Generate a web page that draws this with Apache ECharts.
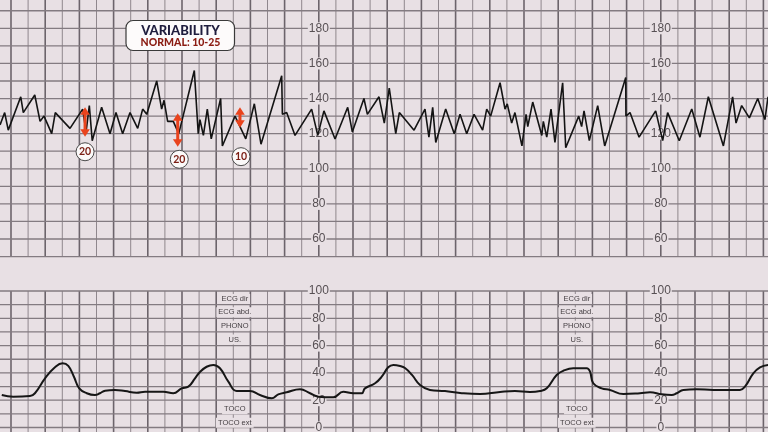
<!DOCTYPE html>
<html><head><meta charset="utf-8">
<script src="https://cdn.jsdelivr.net/npm/echarts@6/dist/echarts.min.js"></script>
<style>html,body{margin:0;padding:0;background:#e8e0e4}#c{width:768px;height:432px}</style>
</head><body><div id="c"></div>
<script>
// ---- Data (time in seconds, 10 s per small division) ----
const fhrTime = [-6.4,-3.7,-1.6,5.7,7.2,13.9,17.0,19.3,23.8,25.9,34.5,41.9,43.9,45.8,47.5,53.0,57.9,61.4,65.3,69.6,74.1,77.0,79.4,85.2,88.1,89.5,91.6,94.9,98.1,107.2,109.5,110.5,112.5,114.8,117.1,122.6,123.6,131.0,137.3,142.3,146.2,158.3,158.7,161.2,166.1,175.8,179.4,183.0,189.5,196.9,199.6,206.4,208.4,215.2,218.3,221.2,225.0,227.1,235.7,242.1,244.4,246.6,248.4,254.2,259.2,262.6,266.5,270.8,275.8,278.2,280.5,286.0,288.9,290.2,292.8,294.7,298.8,301.2,302.2,305.1,310.4,311.3,313.3,315.8,318.1,322.6,324.4,332.0,333.7,335.1,338.2,343.1,347.2,359.5,359.6,362.0,367.3,377.0,381.1,384.0,390.8,398.1,402.9,407.8,416.6,422.0,424.0,427.3,431.8,436.7,440.9,442.7];
const fhrBpm = [125,132,122,141,132,142,127,130,120,132,123,134,121,136,116,135,120,132,120,132,123,134,131,150,134,139,127,127,120,156,120,128,119,134,117,140,113,130,117,137,114,153,131,132,119,134,119,133,117,135,121,140,131,141,126,146,120,132,122,134,118,135,115,134,120,131,120,131,122,134,130,149,134,137,126,132,113,131,124,138,119,127,118,134,115,149,112,130,124,133,116,136,113,152,130,132,118,133,116,132,116,134,118,141,113,141,126,136,129,140,128,141];
const tocoTime = [-5.4,1.3,11.1,14.0,19.9,25.7,30.2,33.5,36.8,39.9,44.3,49.1,52.0,55.0,60.8,66.7,73.5,78.4,89.1,94.9,99.8,103.7,107.6,110.5,114.4,118.3,122.2,127.1,132.0,139.8,145.6,152.5,156.3,161.2,169.0,174.9,179.7,188.5,194.3,200.2,205.1,207.0,212.9,216.8,220.6,223.6,227.5,230.4,234.5,239.2,245.0,253.8,262.6,274.3,286.0,294.7,303.5,309.4,313.3,319.1,323.0,328.8,336.7,338.6,340.5,345.4,350.3,358.1,367.8,373.7,380.5,386.4,389.3,393.2,401.0,410.7,426.3,429.2,434.1,438.0,442.7];
const tocoValue = [23.8,22.6,23.1,25.1,36.0,44.1,47.0,45.1,37.2,28.7,25.1,23.8,25.1,27.0,27.5,26.7,25.5,26.2,26.2,25.1,28.7,29.9,36.0,40.7,44.5,45.8,43.4,33.6,26.7,26.7,23.8,21.4,24.3,25.8,28.0,25.1,22.6,22.1,26.2,25.1,25.1,28.7,32.4,37.2,44.1,45.8,45.1,43.6,38.5,31.1,27.5,26.7,25.3,24.5,26.0,26.7,26.0,26.7,28.7,38.5,41.6,43.4,43.4,40.9,32.4,28.7,27.5,24.5,25.1,25.8,24.3,23.8,25.1,27.5,28.0,27.5,27.5,29.9,39.7,44.1,45.8];
const varTime = [43.3, 97.5, 133.9];
const varHigh = [135, 131.6, 135];
const varLow = [118.3, 112.6, 123.4];
const varLabelTime = [43.3, 98.4, 134.5];
const varLabelBpm = [109.7, 105.4, 106.9];
const varLabels = ['20', '20', '10'];
const fhrTickLabels = [60, 80, 100, 120, 140, 160, 180];
const tocoTickLabels = [0, 20, 40, 60, 80, 100];
const scaleTimes = [180, 380];
const channelTimes = [130, 330];
const channelTop = ['ECG dir', 'ECG abd.', 'PHONO', 'US.'];
const channelBottom = ['TOCO', 'TOCO ext'];

// ---- Layout / style ----
const W = 768;
const T_MIN = -11 / 1.71, T_MAX = 757 / 1.71;
const PAPER = '#e8e0e4';
const RED = '#e9431d';
const px = t => (t - T_MIN) / (T_MAX - T_MIN) * W;

const chart = echarts.init(document.getElementById('c'), null, {renderer: 'canvas'});

function paper(xi, yi, vTop, vBottom, hFrom, hTo) {
  return {
    type: 'custom', xAxisIndex: xi, yAxisIndex: yi, z: 0, silent: true, clip: false,
    data: [[0, hFrom]],
    renderItem(params, api) {
      const ch = [];
      for (let k = -1; k <= 45; k++) {
        const t = k * 10;
        const a = api.coord([t, vTop]), b = api.coord([t, vBottom]);
        const thick = ((k % 2) + 2) % 2 === 0;
        ch.push({type: 'line', shape: {x1: a[0], y1: a[1], x2: b[0], y2: b[1]},
          style: {stroke: thick ? '#6c646b' : '#8f878d', lineWidth: thick ? 1.6 : 1}});
      }
      for (let v = hFrom; v <= hTo; v += 10) {
        const a = api.coord([T_MIN, v]), b = api.coord([T_MAX, v]);
        ch.push({type: 'line', shape: {x1: a[0], y1: a[1], x2: b[0], y2: b[1]},
          style: {stroke: '#837b81', lineWidth: 1.3}});
      }
      return {type: 'group', children: ch};
    }
  };
}

function labelAxis(gi, min, max, t, ticks) {
  return {
    type: 'value', gridIndex: gi, min, max, interval: 20, position: 'left', offset: -px(t), z: 1,
    axisLine: {show: false}, axisTick: {show: false}, splitLine: {show: false},
    axisLabel: {
      show: true, margin: 0, align: 'center', verticalAlign: 'middle', color: '#575054', fontSize: 12,
      fontFamily: 'Liberation Sans, Arial, sans-serif', backgroundColor: PAPER, padding: [0, 1, 0, 1],
      formatter: v => ticks.includes(v) ? String(v) : ''
    }
  };
}

const graphics = [
  {type: 'rect', z: 100, shape: {x: 126, y: 20.5, width: 108.5, height: 30, r: 7},
    style: {fill: '#fdfbfb', stroke: '#3a3a3a', lineWidth: 1.2}},
  {type: 'text', z: 101, x: 180.5, y: 31, style: {text: 'VARIABILITY', font: '900 13px Lato, sans-serif',
    fill: '#1f1d3d', align: 'center', verticalAlign: 'middle'}},
  {type: 'text', z: 101, x: 180.5, y: 42.5, style: {text: 'NORMAL: 10-25', font: '900 10.5px Lato, sans-serif',
    fill: '#8b1c12', align: 'center', verticalAlign: 'middle'}}
];
const topY = [299, 312.3, 325.7, 339.5];
const botY = [409.3, 422.7];
channelTimes.forEach(t => {
  channelTop.forEach((s, i) => graphics.push({type: 'text', z: 50, x: px(t) + 1.5, y: topY[i],
    style: {text: s, font: '7.5px Liberation Sans, Arial, sans-serif', fill: '#443e42', align: 'center',
      verticalAlign: 'middle', backgroundColor: PAPER, padding: [1, 2]}}));
  channelBottom.forEach((s, i) => graphics.push({type: 'text', z: 50, x: px(t) + 1.5, y: botY[i],
    style: {text: s, font: '7.5px Liberation Sans, Arial, sans-serif', fill: '#443e42', align: 'center',
      verticalAlign: 'middle', backgroundColor: PAPER, padding: [1, 2]}}));
});

const option = {
  backgroundColor: PAPER,
  animation: false,
  grid: [
    {left: 0, right: 0, top: 28.3 - 20 * 1.756, height: 160 * 1.756, containLabel: false, outerBoundsMode: 'none'},
    {left: 0, right: 0, top: 291, height: 136.5, containLabel: false, outerBoundsMode: 'none'}
  ],
  xAxis: [
    {type: 'value', gridIndex: 0, min: T_MIN, max: T_MAX, show: false},
    {type: 'value', gridIndex: 1, min: T_MIN, max: T_MAX, show: false}
  ],
  yAxis: [
    labelAxis(0, 40, 200, scaleTimes[0], fhrTickLabels),
    labelAxis(0, 40, 200, scaleTimes[1], fhrTickLabels),
    labelAxis(1, 0, 100, scaleTimes[0], tocoTickLabels),
    labelAxis(1, 0, 100, scaleTimes[1], tocoTickLabels)
  ],
  graphic: graphics,
  series: [
    paper(0, 0, 200, 50, 50, 190),
    paper(1, 2, 100, -4, 0, 100),
    {
      type: 'line', xAxisIndex: 0, yAxisIndex: 0, z: 5, symbol: 'none', silent: true,
      data: fhrTime.map((t, i) => [t, fhrBpm[i]]),
      lineStyle: {color: '#141414', width: 1.6}
    },
    {
      type: 'line', xAxisIndex: 1, yAxisIndex: 2, z: 5, symbol: 'none', silent: true,
      smooth: 0.45,
      data: tocoTime.map((t, i) => [t, tocoValue[i]]),
      lineStyle: {color: '#161616', width: 2}
    },
    {
      type: 'custom', xAxisIndex: 0, yAxisIndex: 0, z: 8, silent: true,
      data: varTime.map((t, i) => [t, varHigh[i], varLow[i]]),
      renderItem(params, api) {
        const t = api.value(0);
        const a = api.coord([t, api.value(1)]), b = api.coord([t, api.value(2)]);
        const hw = 4.8, hh = 7.5;
        return {type: 'group', children: [
          {type: 'line', shape: {x1: a[0], y1: a[1] + hh - 1, x2: b[0], y2: b[1] - hh + 1}, style: {stroke: RED, lineWidth: 3}},
          {type: 'polygon', shape: {points: [[a[0], a[1]], [a[0] - hw, a[1] + hh], [a[0] + hw, a[1] + hh]]}, style: {fill: RED}},
          {type: 'polygon', shape: {points: [[b[0], b[1]], [b[0] - hw, b[1] - hh], [b[0] + hw, b[1] - hh]]}, style: {fill: RED}}
        ]};
      }
    },
    {
      type: 'scatter', xAxisIndex: 0, yAxisIndex: 0, z: 9, silent: true,
      data: varLabelTime.map((t, i) => [t, varLabelBpm[i], varLabels[i]]),
      symbol: 'circle', symbolSize: 18,
      itemStyle: {color: '#fbf9f9', borderColor: '#4a4a4a', borderWidth: 1, opacity: 1},
      label: {show: true, position: 'inside', formatter: p => p.value[2], color: '#7a1d13',
        fontSize: 10.5, fontWeight: 'bold', fontFamily: 'Lato, sans-serif'}
    }
  ]
};
chart.setOption(option);
</script>
</body></html>
